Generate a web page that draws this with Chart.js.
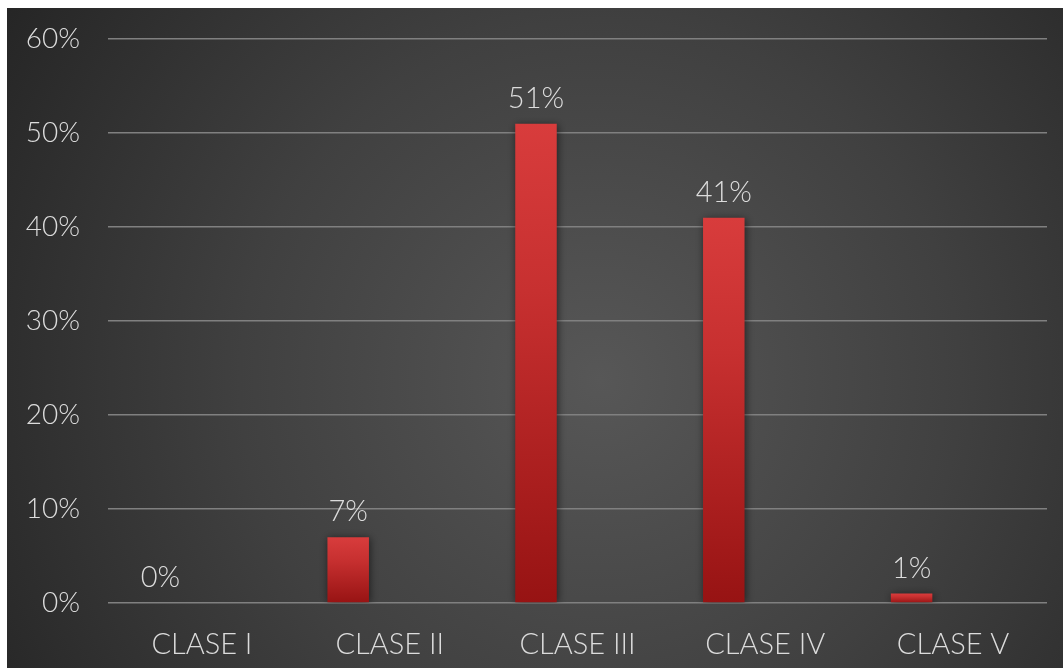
<!DOCTYPE html>
<html><head><meta charset="utf-8">
<script src="https://cdn.jsdelivr.net/npm/chart.js@4.4.0/dist/chart.umd.min.js"></script>
<style>html,body{margin:0;padding:0;background:#fff;}#wrap{width:1063px;height:668px;position:relative;}</style>
</head><body>
<div id="wrap"><canvas id="c" width="1063" height="668"></canvas></div>
<script>
const categories = ['CLASE I', 'CLASE II', 'CLASE III', 'CLASE IV', 'CLASE V'];
const values = [0, 7, 51, 41, 1];
const emptySeries = [null, null, null, null, null];
const yTicks = [0, 10, 20, 30, 40, 50, 60];

const FONT = 'Lato, "DejaVu Sans", sans-serif';
const TEXT = '#dcdcdc';

const bgPlugin = {
  id: 'bg',
  beforeDraw(chart) {
    const ctx = chart.ctx, w = chart.width, h = chart.height;
    ctx.save();
    ctx.fillStyle = '#ffffff';
    ctx.fillRect(0, 0, w, h);
    const g = ctx.createRadialGradient(600, 380, 0, 600, 380, 720);
    g.addColorStop(0, '#575757');
    g.addColorStop(0.5, '#404040');
    g.addColorStop(1, '#242424');
    ctx.fillStyle = g;
    ctx.fillRect(7, 8, w - 7, h - 8);
    ctx.restore();
  },
  beforeDatasetsDraw(chart) {
    const ctx = chart.ctx;
    ctx.save();
    ctx.shadowColor = 'rgba(0,0,0,0.55)';
    ctx.shadowBlur = 8;
    ctx.shadowOffsetX = 1;
    ctx.shadowOffsetY = 1;
  },
  afterDatasetsDraw(chart) {
    const ctx = chart.ctx;
    ctx.restore();
    ctx.save();
    const meta = chart.getDatasetMeta(0);
    ctx.fillStyle = TEXT;
    ctx.font = '300 29px ' + FONT;
    ctx.textAlign = 'center';
    ctx.textBaseline = 'alphabetic';
    meta.data.forEach((bar, i) => {
      ctx.fillText(values[i] + '%', bar.x, bar.y - 16);
    });
    ctx.restore();
  }
};

new Chart(document.getElementById('c'), {
  type: 'bar',
  data: {
    labels: categories,
    datasets: [{
      data: values,
      backgroundColor: (c) => {
        const ch = c.chart; const a = ch.chartArea;
        if (!a || c.dataIndex === undefined) return '#c82828';
        const ys = ch.scales.y;
        const top = ys.getPixelForValue(values[c.dataIndex]);
        const bot = ys.getPixelForValue(0);
        if (bot - top < 2) return '#d03232';
        const g = ch.ctx.createLinearGradient(0, top, 0, bot);
        g.addColorStop(0, '#d83c3c');
        g.addColorStop(0.35, '#c73030');
        g.addColorStop(1, '#971313');
        return g;
      },
      borderWidth: 0,
      categoryPercentage: 0.884,
      barPercentage: 0.5
    }, {
      data: emptySeries,
      backgroundColor: '#888',
      categoryPercentage: 0.884,
      barPercentage: 0.5
    }]
  },
  options: {
    responsive: false,
    animation: false,
    devicePixelRatio: 1,
    layout: { padding: { left: 25, right: 16, top: 39, bottom: 0 } },
    plugins: { legend: { display: false }, tooltip: { enabled: false } },
    scales: {
      x: {
        grid: { display: false },
        border: { display: false },
        ticks: { color: TEXT, font: { family: FONT, size: 29, weight: '300' }, padding: 16 },
        afterFit: (s) => { s.height = 65; }
      },
      y: {
        min: 0, max: 60,
        afterBuildTicks: (s) => { s.ticks = yTicks.map(v => ({ value: v })); },
        grid: { color: '#808080', lineWidth: 1.5, drawTicks: false },
        border: { display: false },
        ticks: { color: TEXT, font: { family: FONT, size: 28, weight: '300', lineHeight: 0.8 }, padding: 28, callback: (v) => v + '%' },
        afterFit: (s) => { s.width = 83; }
      }
    }
  },
  plugins: [bgPlugin]
});
</script>
</body></html>
